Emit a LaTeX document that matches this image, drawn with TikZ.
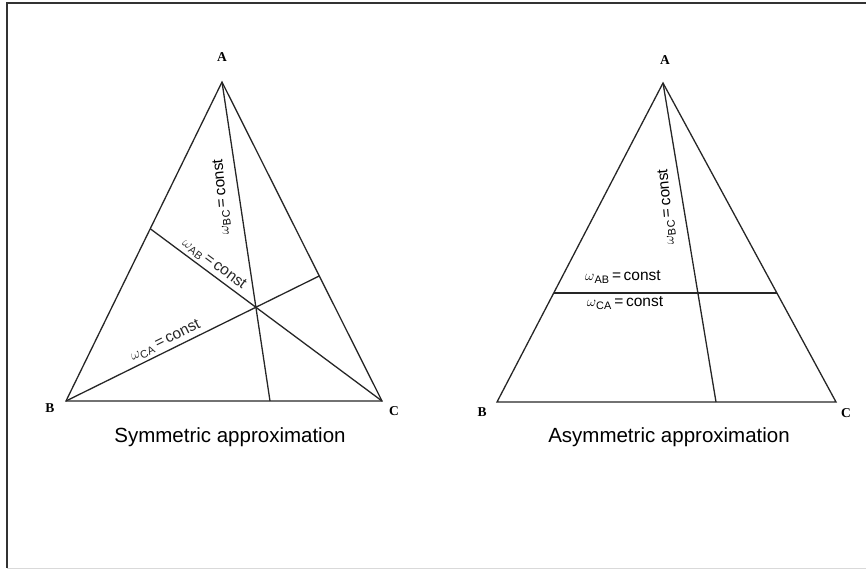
\documentclass[tikz,border=0pt]{standalone}
\usepackage{fontspec}
\setmainfont{Liberation Sans}
\newfontfamily\vtxfont{Liberation Serif}
\usetikzlibrary{calc}
\newcommand{\wc}[1]{$\omega$\textsubscript{#1}\,=\,const}

\begin{document}
\begin{tikzpicture}[x=1pt, y=-1pt,
  side/.style={line width=1.3pt, black!85},
  vtx/.style={font=\vtxfont\fontsize{13.5}{13.5}\selectfont\bfseries, inner sep=0pt},
  lbl/.style={font=\fontsize{15.5}{16}\selectfont, inner sep=0pt},
  captext/.style={font=\fontsize{20.5}{22}\selectfont, inner sep=0pt},
]
  \useasboundingbox (0,0) rectangle (866,570);
  % frame
  \draw[line width=1.8pt, black!80] (870,3) -- (7,3) -- (7,568);
  \draw[line width=1pt, black!15] (7,568) -- (870,568);

  % symmetric
  \coordinate (sA) at (222,82);
  \coordinate (sB) at (66,401);
  \coordinate (sC) at (382,401);
  \coordinate (sD) at (270,401);
  \coordinate (sE) at ($(sA)!0.608!(sC)$);
  \coordinate (sP) at (intersection of sA--sD and sB--sE);
  \coordinate (sF) at (intersection of sC--sP and sA--sB);
  \draw[side] (sA) -- (sB) -- (sC) -- cycle;
  \draw[side] (sA) -- (sD);
  \draw[side] (sB) -- (sE)
    node[lbl, pos=0.41, sloped, above=3pt] (sca) {\wc{CA}};
  \draw[side] (sF) -- (sC)
    node[lbl, pos=0.25, sloped, above=3pt] (sab) {\wc{AB}};
  \node[vtx] (sAl) at (222,57) {A};
  \node[vtx] (sBl) at (50,408) {B};
  \node[vtx] (sCl) at (394,411) {C};
  \node[lbl, rotate=95] (sbc) at (222,197) {\wc{BC}};
  \node[captext] (scap) at (230,437) {Symmetric approximation};

  % asymmetric
  \coordinate (aA) at (663,83);
  \coordinate (aB) at (497,402);
  \coordinate (aC) at (836,402);
  \coordinate (aD) at (716,402);
  \coordinate (aL) at ($(aA)!0.658!(aB)$);
  \coordinate (aR) at ($(aA)!0.658!(aC)$);
  \draw[side] (aA) -- (aB) -- (aC) -- cycle;
  \draw[side] (aA) -- (aD);
  \draw[side] (aL) -- (aR);
  \node[vtx] (aAl) at (665,60) {A};
  \node[vtx] (aBl) at (482,412) {B};
  \node[vtx] (aCl) at (846,413) {C};
  \node[lbl, rotate=95] (abc) at (667,207) {\wc{BC}};
  \node[lbl] (aab) at (623,277) {\wc{AB}};
  \node[lbl] (aca) at (625,303) {\wc{CA}};
  \node[captext] (acap) at (669,437) {Asymmetric approximation};
\end{tikzpicture}
\end{document}
